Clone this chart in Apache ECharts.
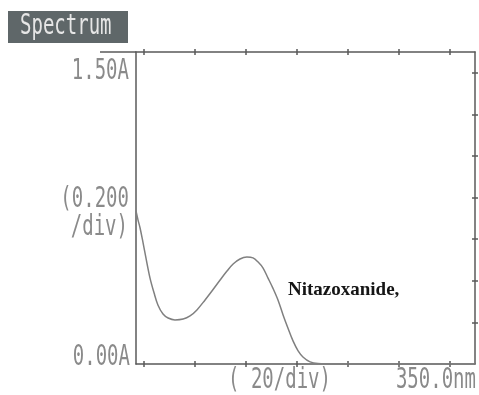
<!DOCTYPE html>
<html><head><meta charset="utf-8">
<script src="https://cdn.jsdelivr.net/npm/echarts@6/dist/echarts.min.js"></script>
<style>html,body{margin:0;padding:0;background:#fff}#c{width:479px;height:395px}</style>
</head><body><div id="c"></div>
<script>
// Data
const wavelengths = [217.0,217.8,218.6,219.7,220.9,222.5,224.1,225.6,227.6,229.6,232.3,235.5,238.2,240.9,244.1,246.8,250.0,252.7,255.1,257.8,260.5,262.9,264.9,266.8,268.8,270.7,272.7,274.7,276.6,278.6,280.6,282.5,285.3,288.4,295,305,315,325,335,345,350];
const absorbance  = [0.736,0.692,0.654,0.587,0.510,0.413,0.341,0.284,0.240,0.221,0.212,0.216,0.231,0.260,0.308,0.351,0.404,0.447,0.481,0.505,0.514,0.510,0.490,0.462,0.413,0.365,0.308,0.236,0.173,0.111,0.063,0.034,0.010,0.002,0.0,0.0,0.0,0.0,0.0,0.0,0.0];
const xTicks = [220,240,260,280,300,320,340];
const yTicks = [0.2,0.4,0.6,0.8,1.0,1.2,1.4];
const xMin = 217, xMax = 350, yMin = 0, yMax = 1.5;
const yLabels = ["1.50A","0.00A"];
const yUnitLabel = ["(0.200", "/div)"];
const xUnitLabel = "( 20/div)";
const xEndLabel = "350.0nm";
const titleText = "Spectrum";
const seriesName = "Nitazoxanide,";

const axisColor = '#5a5a5a';
const textColor = '#8a8a8a';
const mono = '"DejaVu Sans Mono", monospace';

function xAx(grid, pos, inside, showLine){
  return {type:'value', gridIndex:grid, min:xMin, max:xMax, position:pos,
    axisLine:{show:showLine, onZero:false, lineStyle:{color:axisColor, width:1.5}},
    axisTick:{show:true, inside:inside, length:3, customValues:xTicks, lineStyle:{color:axisColor,width:1.5}},
    axisLabel:{show:false}, splitLine:{show:false}};
}
function yAx(grid, pos, inside, showLine, ticks){
  return {type:'value', gridIndex:grid, min:yMin, max:yMax, position:pos,
    axisLine:{show:showLine, onZero:false, lineStyle:{color:axisColor, width:1.5}},
    axisTick:{show:ticks, inside:inside, length:3, customValues:yTicks, lineStyle:{color:axisColor,width:1.5}},
    axisLabel:{show:false}, splitLine:{show:false}};
}
function monoText(txt, x, y, align, color, size){
  return {type:'text', x:x, y:y, scaleY:1.45, z:10,
    style:{text:txt, fill:color||textColor, font:(size||19)+'px '+mono, textAlign:align||'right', textVerticalAlign:'middle'}};
}

const g = {left:136, right:4, top:52, bottom:31};
const chart = echarts.init(document.getElementById('c'), null, {renderer:'canvas'});
chart.setOption({
  animation:false,
  backgroundColor:'#fff',
  grid:[Object.assign({}, g), Object.assign({}, g)],
  xAxis:[xAx(0,'bottom',false,true), xAx(0,'top',false,true), xAx(1,'bottom',true,false), xAx(1,'top',true,false)],
  yAxis:[yAx(0,'left',false,true,false), yAx(0,'right',false,true,true), yAx(1,'left',true,false,false), yAx(1,'right',true,false,true)],
  series:[{
    name:seriesName, type:'line', xAxisIndex:0, yAxisIndex:0,
    data:wavelengths.map((w,i)=>[w,absorbance[i]]),
    showSymbol:false, smooth:0.35,
    lineStyle:{color:'#808080', width:1.5}
  }],
  graphic:[
    {type:'rect', shape:{x:8,y:11,width:120,height:32}, style:{fill:'#5f6769'}},
    monoText(titleText, 20, 27, 'left', '#e6e6e6', 19),
    {type:'line', shape:{x1:100,y1:52,x2:136,y2:52}, style:{stroke:axisColor, lineWidth:1.5}},
    monoText(yLabels[0], 129, 72),
    monoText(yLabels[1], 130, 358),
    monoText(yUnitLabel[0], 129, 200),
    monoText(yUnitLabel[1], 128, 228),
    monoText(xUnitLabel, 228, 381, 'left'),
    monoText(xEndLabel, 476, 381, 'right'),
    {type:'text', x:288, y:290, z:10, style:{text:seriesName, fill:'#151515', font:'bold 19px "Liberation Serif", "Times New Roman", serif', textAlign:'left', textVerticalAlign:'middle'}}
  ]
});
</script></body></html>
